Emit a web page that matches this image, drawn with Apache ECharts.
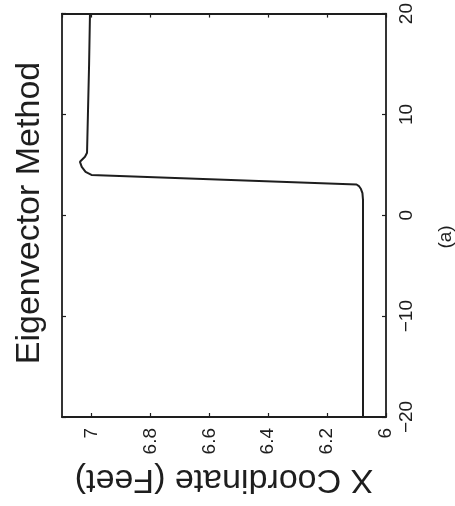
<!DOCTYPE html>
<html>
<head>
<meta charset="utf-8">
<script src="https://cdn.jsdelivr.net/npm/echarts@6/dist/echarts.min.js"></script>
<style>
html,body{margin:0;padding:0;background:#fff;}
#chart{width:455px;height:506px;}
</style>
</head>
<body>
<div id="chart"></div>
<script>
// Data read from the (rotated) reference figure
var titleText = "Eigenvector Method";
var axisNameText = "X Coordinate (Feet)";
var panelLabel = "(a)";
// position along the track (vertical axis, -20..20)
var positions = [-20, -10, 0, 1.5, 2.2, 2.6, 2.9, 3.05, 4.0, 4.3, 4.8, 5.3, 5.8, 6.2, 10, 15, 20];
// estimated X coordinate in feet (horizontal axis, 7 at left, 6 at right)
var xCoord = [6.078, 6.078, 6.078, 6.078, 6.08, 6.085, 6.092, 6.10, 7.0, 7.02, 7.033, 7.039, 7.022, 7.015, 7.012, 7.008, 7.005];
var valueTicks = [6, 6.2, 6.4, 6.6, 6.8, 7];
var posTicks = [-20, -10, 0, 10, 20];

var FONT = "'Liberation Sans', Arial, Helvetica, sans-serif";
var INK = '#1e1e1e';

var data = positions.map(function (p, i) { return [xCoord[i], p]; });

function fmtNum(v) { return String(v).replace('-', '\u2212'); }

var chart = echarts.init(document.getElementById('chart'), null, {renderer: 'canvas'});
var lineStyleAxis = {color: INK, width: 1.8};
var tickStyle = {show: true, inside: true, length: 4, lineStyle: {color: INK, width: 1.2}};
chart.setOption({
  backgroundColor: '#ffffff',
  animation: false,
  grid: {left: 62, right: 69, top: 7, bottom: 89, containLabel: false},
  xAxis: [{
    type: 'value', min: 6, max: 7.1, interval: 0.2, inverse: true, position: 'bottom',
    axisLine: {show: true, onZero: false, lineStyle: lineStyleAxis},
    axisTick: tickStyle,
    splitLine: {show: false},
    axisLabel: {rotate: 90, margin: 11, fontSize: 19, fontFamily: FONT, color: INK, showMaxLabel: false,
      formatter: function (v) { return valueTicks.indexOf(Math.round(v * 10) / 10) >= 0 ? fmtNum(Math.round(v * 10) / 10) : ''; }},
    name: axisNameText, nameLocation: 'middle', nameGap: 43, nameRotate: 180,
    nameTextStyle: {fontSize: 34, fontFamily: FONT, color: INK}
  }, {
    type: 'value', min: 6, max: 7.1, interval: 0.2, inverse: true, position: 'top',
    axisLine: {show: true, onZero: false, lineStyle: lineStyleAxis},
    axisTick: tickStyle,
    splitLine: {show: false}, axisLabel: {show: false}
  }],
  yAxis: [{
    type: 'value', min: -20, max: 20, interval: 10, position: 'right',
    axisLine: {show: true, onZero: false, lineStyle: lineStyleAxis},
    axisTick: tickStyle,
    splitLine: {show: false},
    axisLabel: {rotate: 90, margin: 11, fontSize: 19, fontFamily: FONT, color: INK,
      formatter: function (v) { return posTicks.indexOf(v) >= 0 ? fmtNum(v) : ''; }}
  }, {
    type: 'value', min: -20, max: 20, interval: 10, position: 'left',
    axisLine: {show: true, onZero: false, lineStyle: lineStyleAxis},
    axisTick: tickStyle,
    splitLine: {show: false}, axisLabel: {show: false}
  }],
  graphic: [{
    type: 'text', x: 30, y: 213, rotation: Math.PI / 2,
    style: {text: titleText, font: '34px ' + FONT, fill: INK, textAlign: 'center', textVerticalAlign: 'middle'}
  }, {
    type: 'text', x: 446, y: 237, rotation: Math.PI / 2,
    style: {text: panelLabel, font: '19px ' + FONT, fill: INK, textAlign: 'center', textVerticalAlign: 'middle'}
  }],
  series: [{
    type: 'line', xAxisIndex: 0, yAxisIndex: 0, data: data, showSymbol: false, symbol: 'none',
    lineStyle: {color: INK, width: 2}, silent: true
  }]
});
</script>
</body>
</html>
